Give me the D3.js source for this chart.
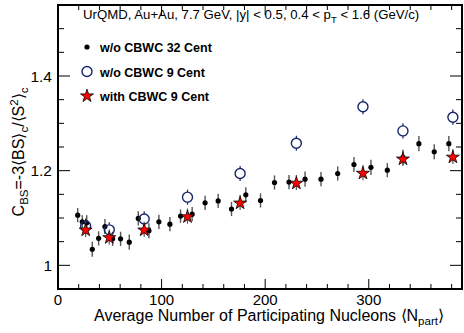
<!DOCTYPE html>
<html lang="en">
<head>
<meta charset="UTF-8">
<title>C_BS vs Npart</title>
<script src="https://cdn.jsdelivr.net/npm/d3@7"></script>
<style>
  body { margin: 0; background: #fff; }
  svg { display: block; font-family: "Liberation Sans", Arial, sans-serif; }
</style>
</head>
<body>
<svg id="chart" width="464" height="333"></svg>
<script>
// w/o CBWC, 32 centrality bins
var npart32 = [19, 23.4, 27.7, 33.1, 39.2, 45.3, 52.7, 60.4, 68.8, 77.5, 87.8, 97.4, 108, 118.3, 129.5,
               142, 154.6, 167.5, 181.3, 195.5, 209, 223, 238.5, 253.9, 270, 285.7, 302.1, 317.9, 333, 348.4, 363.2, 377.3];
var cbs32   = [1.106, 1.092, 1.090, 1.034, 1.057, 1.082, 1.056, 1.056, 1.049, 1.099, 1.073, 1.092, 1.087, 1.104, 1.108,
               1.132, 1.136, 1.119, 1.149, 1.137, 1.175, 1.176, 1.182, 1.182, 1.194, 1.213, 1.207, 1.201, 1.228, 1.257, 1.240, 1.257];
var err32   = [0.015, 0.014, 0.016, 0.016, 0.015, 0.016, 0.015, 0.015, 0.016, 0.015, 0.016, 0.015, 0.015, 0.014, 0.015,
               0.015, 0.015, 0.015, 0.016, 0.015, 0.015, 0.015, 0.016, 0.015, 0.015, 0.016, 0.016, 0.015, 0.016, 0.016, 0.016, 0.016];

// 9 centrality bins
var npart9    = [26.7, 49.5, 83.2, 125, 175.8, 230.1, 294.4, 333, 381.2];
var cbsNoCbwc = [1.083, 1.075, 1.098, 1.144, 1.194, 1.258, 1.335, 1.284, 1.313];
var cbsCbwc   = [1.076, 1.060, 1.076, 1.104, 1.133, 1.175, 1.196, 1.226, 1.230];
var err9      = [0.016, 0.016, 0.016, 0.016, 0.016, 0.016, 0.016, 0.016, 0.016];

var xTicks = [0, 100, 200, 300];
var yTicks = [1, 1.2, 1.4];

var svg = d3.select("#chart");
var L = 58, R = 462, T = 5, B = 289;

var x = d3.scaleLinear().domain([0, 390]).range([L, R]);
var y = d3.scaleLinear().domain([0.95, 1.55]).range([B, T]);

// ticks (inside frame, mirrored)
var ticks = svg.append("g").attr("stroke", "#000").attr("stroke-width", 1);
d3.range(0, 391, 20).forEach(function(v) {
  var major = v % 100 === 0, len = major ? 10 : 5;
  ticks.append("line").attr("x1", x(v)).attr("x2", x(v)).attr("y1", B).attr("y2", B - len);
  ticks.append("line").attr("x1", x(v)).attr("x2", x(v)).attr("y1", T).attr("y2", T + len);
});
d3.range(0.95, 1.551, 0.05).forEach(function(v) {
  var major = Math.abs(v * 5 - Math.round(v * 5)) < 1e-6, len = major ? 12 : 6;
  ticks.append("line").attr("y1", y(v)).attr("y2", y(v)).attr("x1", L).attr("x2", L + len);
  ticks.append("line").attr("y1", y(v)).attr("y2", y(v)).attr("x1", R).attr("x2", R - len);
});

svg.append("rect").attr("x", L).attr("y", T).attr("width", R - L).attr("height", B - T)
  .attr("fill", "none").attr("stroke", "#000").attr("stroke-width", 2);

// tick labels
svg.selectAll("text.xt").data(xTicks).enter().append("text")
  .attr("x", function(d) { return x(d); }).attr("y", 305)
  .attr("text-anchor", "middle").attr("font-size", 15)
  .text(function(d) { return d; });
svg.selectAll("text.yt").data(yTicks).enter().append("text")
  .attr("x", 52).attr("y", function(d) { return y(d) + 5.5; })
  .attr("text-anchor", "end").attr("font-size", 15.5)
  .text(function(d) { return d3.format("")(d); });

// axis titles
var xt = svg.append("text").attr("x", 94).attr("y", 321).attr("font-size", 16);
xt.append("tspan").text("Average Number of Participating Nucleons \u27E8N");
xt.append("tspan").attr("font-size", 11.5).attr("dy", 4).text("part");
xt.append("tspan").attr("dy", -4).text("\u27E9");

var yt = svg.append("text").attr("transform", "translate(24,152) rotate(-90)")
  .attr("text-anchor", "middle").attr("font-size", 16);
yt.append("tspan").text("C");
yt.append("tspan").attr("font-size", 11.5).attr("dy", 4).text("BS");
yt.append("tspan").attr("dy", -4).text("=-3\u27E8BS\u27E9");
yt.append("tspan").attr("font-size", 11.5).attr("dy", 4).text("c");
yt.append("tspan").attr("dy", -4).text("/\u27E8S");
yt.append("tspan").attr("font-size", 11.5).attr("dy", -6).text("2");
yt.append("tspan").attr("dy", 6).text("\u27E9");
yt.append("tspan").attr("font-size", 11.5).attr("dy", 4).text("c");

var plot = svg.append("g");
var star = d3.symbol().type(d3.symbolStar).size(52);
var navy = "#17256b";

// black points, 32 cent
var blk = npart32.map(function(v, i) { return { x: v, y: cbs32[i], e: err32[i] }; });
plot.selectAll("line.e32").data(blk).enter().append("line")
  .attr("x1", function(d) { return x(d.x); }).attr("x2", function(d) { return x(d.x); })
  .attr("y1", function(d) { return y(d.y - d.e); }).attr("y2", function(d) { return y(d.y + d.e); })
  .attr("stroke", "#555").attr("stroke-width", 1.4);
plot.selectAll("circle.p32").data(blk).enter().append("circle")
  .attr("cx", function(d) { return x(d.x); }).attr("cy", function(d) { return y(d.y); })
  .attr("r", 2.6).attr("fill", "#000");

// open circles, w/o CBWC 9 cent
var open = npart9.map(function(v, i) { return { x: v, y: cbsNoCbwc[i], e: err9[i] }; });
open.forEach(function(d) {
  var cx = x(d.x), cy = y(d.y);
  plot.append("line").attr("x1", cx).attr("x2", cx).attr("y1", y(d.y + d.e)).attr("y2", cy - 5)
    .attr("stroke", navy).attr("stroke-width", 1.2);
  plot.append("line").attr("x1", cx).attr("x2", cx).attr("y1", cy + 5).attr("y2", y(d.y - d.e))
    .attr("stroke", navy).attr("stroke-width", 1.2);
});
plot.selectAll("circle.p9").data(open).enter().append("circle")
  .attr("cx", function(d) { return x(d.x); }).attr("cy", function(d) { return y(d.y); })
  .attr("r", 5).attr("fill", "none").attr("stroke", navy).attr("stroke-width", 1.4);

// stars, with CBWC 9 cent
var stars = npart9.map(function(v, i) { return { x: v, y: cbsCbwc[i], e: err9[i] }; });
plot.selectAll("line.es").data(stars).enter().append("line")
  .attr("x1", function(d) { return x(d.x); }).attr("x2", function(d) { return x(d.x); })
  .attr("y1", function(d) { return y(d.y - d.e); }).attr("y2", function(d) { return y(d.y + d.e); })
  .attr("stroke", "#555").attr("stroke-width", 1.2);
plot.selectAll("path.st").data(stars).enter().append("path")
  .attr("d", star)
  .attr("transform", function(d) { return "translate(" + x(d.x) + "," + (y(d.y) + 0.8) + ")"; })
  .attr("fill", "#ff0000").attr("stroke", "#000").attr("stroke-width", 0.8);

// legend
var leg = svg.append("g");
var head = leg.append("text").attr("x", 83).attr("y", 19).attr("font-size", 13.2);
head.append("tspan").text("UrQMD, Au+Au, 7.7 GeV, |y| < 0.5, 0.4 < p");
head.append("tspan").attr("font-size", 9.5).attr("dy", 4).text("T");
head.append("tspan").attr("dy", -4).text(" < 1.6 (GeV/c)");

leg.append("circle").attr("cx", 87).attr("cy", 47).attr("r", 2.6).attr("fill", "#000");
leg.append("circle").attr("cx", 87).attr("cy", 71.5).attr("r", 5).attr("fill", "none")
  .attr("stroke", navy).attr("stroke-width", 1.4);
leg.append("path").attr("d", star).attr("transform", "translate(87,96)")
  .attr("fill", "#ff0000").attr("stroke", "#000").attr("stroke-width", 0.8);
var labels = ["w/o CBWC 32 Cent", "w/o CBWC 9 Cent", "with CBWC 9 Cent"];
leg.selectAll("text.lg").data(labels).enter().append("text")
  .attr("x", 100).attr("y", function(d, i) { return 52 + i * 24.5; })
  .attr("font-size", 12.5).attr("font-weight", "bold")
  .text(function(d) { return d; });
</script>
</body>
</html>
